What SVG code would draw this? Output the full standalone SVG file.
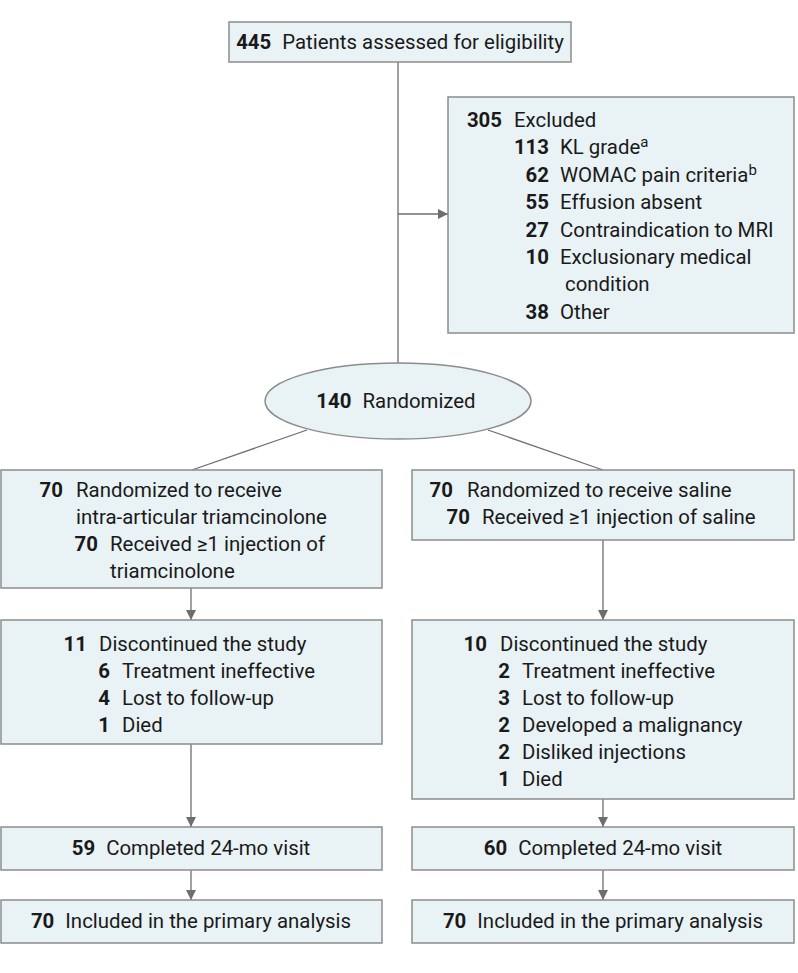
<svg xmlns="http://www.w3.org/2000/svg" width="798" height="973" viewBox="0 0 798 973">
<defs>
<style>
.box{fill:#e9f2f4;stroke:#8c8c8c;stroke-width:1.5}
.ln{fill:none;stroke:#6e6e6e;stroke-width:1.3}
text{font-family:Roboto,"Liberation Sans",sans-serif;font-size:20.4px;fill:#1a1a1a}
.b{font-weight:bold}
.sup{font-size:15px}
</style>
<marker id="ah" markerUnits="userSpaceOnUse" markerWidth="10" markerHeight="10" refX="10" refY="5" orient="auto">
<path d="M0,0 L10,5 L0,10 z" fill="#6e6e6e"/>
</marker>
</defs>
<rect width="798" height="973" fill="#ffffff"/>
<g id="connectors">
<line class="ln" x1="398" y1="62" x2="398" y2="363"/>
<line class="ln" x1="398" y1="214" x2="448" y2="214" marker-end="url(#ah)"/>
<line class="ln" x1="307" y1="430" x2="192" y2="470"/>
<line class="ln" x1="488" y1="430" x2="603" y2="470"/>
<line class="ln" x1="191" y1="588" x2="191" y2="620" marker-end="url(#ah)"/>
<line class="ln" x1="603" y1="540" x2="603" y2="620" marker-end="url(#ah)"/>
<line class="ln" x1="191" y1="744" x2="191" y2="827" marker-end="url(#ah)"/>
<line class="ln" x1="603" y1="799" x2="603" y2="827" marker-end="url(#ah)"/>
<line class="ln" x1="191" y1="870" x2="191" y2="900" marker-end="url(#ah)"/>
<line class="ln" x1="603" y1="870" x2="603" y2="900" marker-end="url(#ah)"/>
</g>
<g id="assessed">
<rect class="box" x="229" y="22" width="342" height="40"/>
<text x="400" y="49" text-anchor="middle"><tspan class="b">445</tspan><tspan dx="11">Patients assessed for eligibility</tspan></text>
</g>
<g id="excluded">
<rect class="box" x="448" y="97" width="346" height="236"/>
<text x="502" y="127" text-anchor="end" class="b">305</text><text x="514" y="127">Excluded</text>
<text x="549" y="154" text-anchor="end" class="b">113</text><text x="560" y="154">KL grade<tspan class="sup" dy="-7">a</tspan></text>
<text x="549" y="182" text-anchor="end" class="b">62</text><text x="560" y="182">WOMAC pain criteria<tspan class="sup" dy="-7">b</tspan></text>
<text x="549" y="209" text-anchor="end" class="b">55</text><text x="560" y="209">Effusion absent</text>
<text x="549" y="237" text-anchor="end" class="b">27</text><text x="560" y="237">Contraindication to MRI</text>
<text x="549" y="264" text-anchor="end" class="b">10</text><text x="560" y="264">Exclusionary medical</text>
<text x="565" y="291">condition</text>
<text x="549" y="319" text-anchor="end" class="b">38</text><text x="560" y="319">Other</text>
</g>
<g id="randomized">
<ellipse class="box" cx="398" cy="401" rx="133" ry="38"/>
<text x="396" y="408" text-anchor="middle"><tspan class="b">140</tspan><tspan dx="11">Randomized</tspan></text>
</g>
<g id="triam-alloc">
<rect class="box" x="1" y="470" width="381" height="118"/>
<text x="63" y="497" text-anchor="end" class="b">70</text><text x="76" y="497">Randomized to receive</text>
<text x="76" y="524">intra-articular triamcinolone</text>
<text x="98" y="551" text-anchor="end" class="b">70</text><text x="110" y="551">Received ≥1 injection of</text>
<text x="110" y="578">triamcinolone</text>
</g>
<g id="saline-alloc">
<rect class="box" x="412" y="470" width="382" height="70"/>
<text x="453" y="497" text-anchor="end" class="b">70</text><text x="467" y="497">Randomized to receive saline</text>
<text x="470" y="524" text-anchor="end" class="b">70</text><text x="482" y="524">Received ≥1 injection of saline</text>
</g>
<g id="triam-disc">
<rect class="box" x="1" y="620" width="381" height="124"/>
<text x="87" y="651" text-anchor="end" class="b">11</text><text x="99" y="651">Discontinued the study</text>
<text x="110" y="678" text-anchor="end" class="b">6</text><text x="122" y="678">Treatment ineffective</text>
<text x="110" y="705" text-anchor="end" class="b">4</text><text x="122" y="705">Lost to follow-up</text>
<text x="110" y="732" text-anchor="end" class="b">1</text><text x="122" y="732">Died</text>
</g>
<g id="saline-disc">
<rect class="box" x="412" y="620" width="382" height="179"/>
<text x="487" y="651" text-anchor="end" class="b">10</text><text x="500" y="651">Discontinued the study</text>
<text x="510" y="678" text-anchor="end" class="b">2</text><text x="522" y="678">Treatment ineffective</text>
<text x="510" y="705" text-anchor="end" class="b">3</text><text x="522" y="705">Lost to follow-up</text>
<text x="510" y="732" text-anchor="end" class="b">2</text><text x="522" y="732">Developed a malignancy</text>
<text x="510" y="759" text-anchor="end" class="b">2</text><text x="522" y="759">Disliked injections</text>
<text x="510" y="786" text-anchor="end" class="b">1</text><text x="522" y="786">Died</text>
</g>
<g id="triam-completed">
<rect class="box" x="1" y="827" width="381" height="43"/>
<text x="191" y="855" text-anchor="middle"><tspan class="b">59</tspan><tspan dx="11">Completed 24-mo visit</tspan></text>
</g>
<g id="saline-completed">
<rect class="box" x="412" y="827" width="382" height="43"/>
<text x="603" y="855" text-anchor="middle"><tspan class="b">60</tspan><tspan dx="11">Completed 24-mo visit</tspan></text>
</g>
<g id="triam-analysis">
<rect class="box" x="1" y="900" width="381" height="43"/>
<text x="191" y="928" text-anchor="middle"><tspan class="b">70</tspan><tspan dx="11">Included in the primary analysis</tspan></text>
</g>
<g id="saline-analysis">
<rect class="box" x="412" y="900" width="382" height="43"/>
<text x="603" y="928" text-anchor="middle"><tspan class="b">70</tspan><tspan dx="11">Included in the primary analysis</tspan></text>
</g>
</svg>
